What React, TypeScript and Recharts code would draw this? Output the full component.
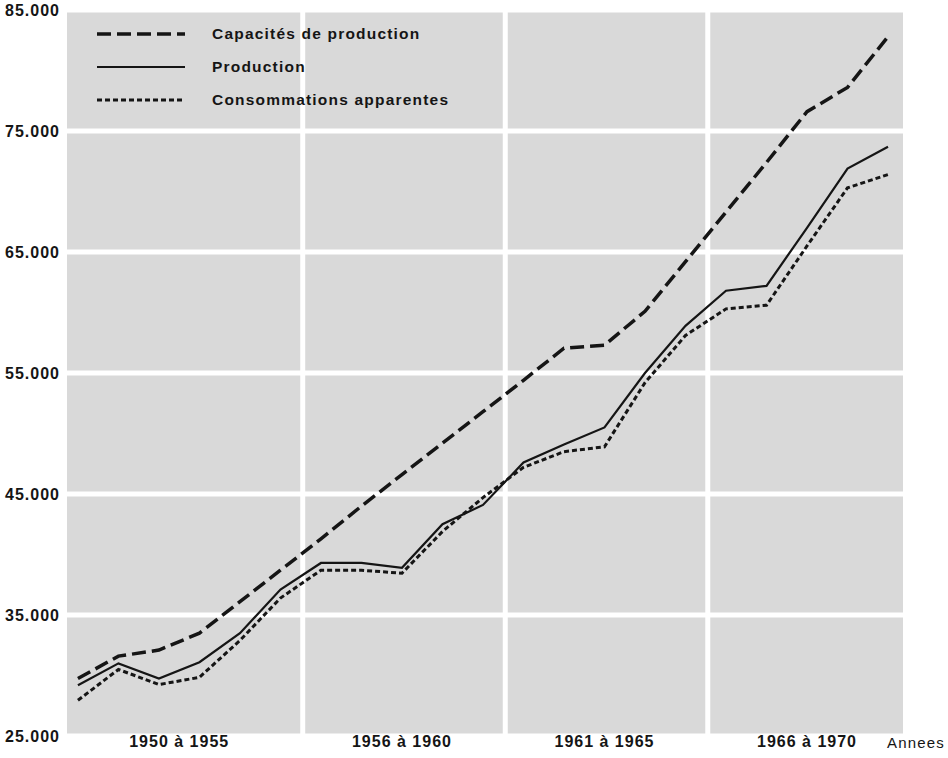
import React from 'react';
import {
  LineChart,
  Line,
  XAxis,
  YAxis,
  CartesianGrid,
  ReferenceLine,
  Legend,
  Label
} from 'recharts';

// Années 1950 à 1970 (milliers de tonnes)
const years = [
  1950, 1951, 1952, 1953, 1954, 1955, 1956, 1957, 1958, 1959, 1960,
  1961, 1962, 1963, 1964, 1965, 1966, 1967, 1968, 1969, 1970
];
const capacite = [
  29750, 31600, 32100, 33500, 36100, 38700, 41300, 44000, 46600, 49200, 51800,
  54400, 57050, 57300, 60100, 64200, 68300, 72400, 76600, 78600, 82800
];
const production = [
  29200, 31000, 29750, 31100, 33500, 37100, 39300, 39300, 38900, 42500, 44100,
  47600, 49100, 50500, 55000, 58900, 61800, 62200, 67000, 71900, 73700
];
const consommation = [
  27950, 30500, 29250, 29850, 32900, 36400, 38700, 38700, 38450, 41900, 44700,
  47200, 48500, 48900, 54200, 58100, 60300, 60600, 65500, 70300, 71400
];

const periods = [
  { label: '1950 à 1955', from: 1950, to: 1955 },
  { label: '1956 à 1960', from: 1956, to: 1960 },
  { label: '1961 à 1965', from: 1961, to: 1965 },
  { label: '1966 à 1970', from: 1966, to: 1970 }
];
const dividers = [1955.55, 1960.55, 1965.55];
const yTicks = [25000, 35000, 45000, 55000, 65000, 75000, 85000];

const series = [
  { key: 'capacite', name: 'Capacités de production', dash: '14 6', width: 3.5 },
  { key: 'production', name: 'Production', dash: undefined, width: 2.2 },
  { key: 'consommation', name: 'Consommations apparentes', dash: '5 3', width: 3 }
];

const data = years.map((year, i) => ({
  year,
  capacite: capacite[i],
  production: production[i],
  consommation: consommation[i]
}));

const FONT = '"Liberation Sans", Arial, Helvetica, sans-serif';
const INK = '#151515';

const periodTicks = periods.map(p => (p.from + p.to) / 2);
const periodLabel = (v: number) => {
  const p = periods.find(q => (q.from + q.to) / 2 === v);
  return p ? p.label : '';
};

const LegendBox = () => (
  <div style={{ fontFamily: FONT }}>
    {series.map(s => (
      <div key={s.key} style={{ display: 'flex', alignItems: 'center', height: 33 }}>
        <svg width={90} height={10} style={{ display: 'block' }}>
          <line
            x1={0}
            y1={5}
            x2={88}
            y2={5}
            stroke={INK}
            strokeWidth={s.width}
            strokeDasharray={s.dash}
          />
        </svg>
        <span
          style={{
            marginLeft: 25,
            fontSize: 15.5,
            fontWeight: 700,
            letterSpacing: 1.2,
            color: INK,
            whiteSpace: 'nowrap'
          }}
        >
          {s.name}
        </span>
      </div>
    ))}
  </div>
);

export default function App() {
  return (
    <div style={{ position: 'fixed', left: 0, top: 0, background: '#fff' }}>
      <LineChart
        width={948}
        height={758}
        data={data}
        margin={{ top: 10, right: 45, bottom: 0, left: 0 }}
      >
        <CartesianGrid
          vertical={false}
          stroke="#ffffff"
          strokeWidth={5}
          fill="#d9d9d9"
          fillOpacity={1}
        />
        <XAxis
          type="number"
          dataKey="year"
          domain={[1949.73, 1970.37]}
          ticks={periodTicks}
          tickFormatter={periodLabel}
          interval={0}
          height={22}
          axisLine={false}
          tickLine={false}
          tickSize={0}
          tickMargin={0}
          tick={{ fill: INK, fontSize: 16, fontWeight: 700, fontFamily: FONT, letterSpacing: 1 }}
        >
          <Label
            value="Annees"
            position="right"
            offset={-16}
            dy={-4}
            style={{ fill: INK, fontSize: 15, fontFamily: FONT, letterSpacing: 1.2 }}
          />
        </XAxis>
        <YAxis
          domain={[25000, 85000]}
          ticks={yTicks}
          interval={0}
          width={67}
          axisLine={false}
          tickLine={false}
          tickSize={0}
          tickMargin={7}
          tickFormatter={(v: number) => `${v / 1000}.000`}
          tick={{ fill: INK, fontSize: 16, fontWeight: 700, fontFamily: FONT, letterSpacing: 1 }}
        />
        {dividers.map(x => (
          <ReferenceLine key={x} x={x} stroke="#ffffff" strokeWidth={5} />
        ))}
        <Legend
          layout="vertical"
          align="center"
          verticalAlign="middle"
          wrapperStyle={{ left: 97, top: 17, width: 440 }}
          content={() => <LegendBox />}
        />
        {series.map(s => (
          <Line
            key={s.key}
            type="linear"
            dataKey={s.key}
            name={s.name}
            stroke={INK}
            strokeWidth={s.width}
            strokeDasharray={s.dash}
            dot={false}
            activeDot={false}
            isAnimationActive={false}
          />
        ))}
      </LineChart>
    </div>
  );
}
